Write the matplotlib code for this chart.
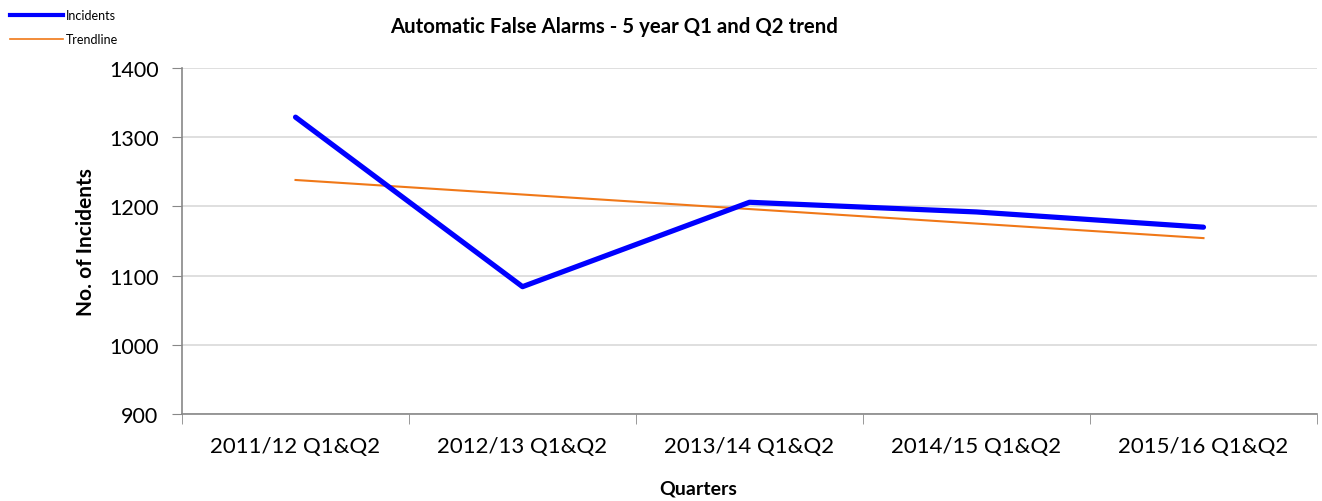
import numpy as np
import matplotlib.pyplot as plt
from matplotlib.lines import Line2D

plt.rcParams['font.family'] = ['Lato', 'DejaVu Sans']

quarters = ["2011/12 Q1&Q2", "2012/13 Q1&Q2", "2013/14 Q1&Q2",
            "2014/15 Q1&Q2", "2015/16 Q1&Q2"]
incidents = [1329, 1084, 1206, 1192, 1170]

x = np.arange(len(quarters))
# linear trendline, as the spreadsheet does it
slope, icpt = np.polyfit(x, incidents, 1)
trend = slope * x + icpt

fig = plt.figure(figsize=(13.22, 5.02), dpi=100)
ax = fig.add_axes([0.1377, 0.1733, 0.8585, 0.6892])

ax.plot(x, incidents, color='#0000ff', linewidth=3.75, solid_capstyle='round', zorder=3)
ax.plot(x, trend, color='#f07818', linewidth=1.5, zorder=2)

ax.set_xlim(-0.5, len(quarters) - 0.5)
ax.set_ylim(900, 1400)
ax.set_yticks(np.arange(900, 1401, 100))
ax.set_xticks(x)
ax.set_xticklabels(quarters)
ax.set_xticks(np.arange(-0.5, len(quarters)), minor=True)
ax.tick_params(axis='x', which='major', length=0, pad=16, labelsize=16)
ax.tick_params(axis='x', which='minor', length=7, color='#888888')
ax.tick_params(axis='y', length=7, color='#888888', labelsize=15.5, pad=10)

ax.yaxis.grid(True, color='#d9d9d9', linewidth=1.2)
ax.set_axisbelow(True)
for s in ['top', 'right']:
    ax.spines[s].set_visible(False)
for s in ['left', 'bottom']:
    ax.spines[s].set_color('#888888')
    ax.spines[s].set_linewidth(1.2)

ax.set_ylabel("No. of Incidents", fontsize=15, fontweight='bold')
ax.yaxis.set_label_coords(-0.076, 0.5)
ax.set_xlabel("Quarters", fontsize=14, fontweight='bold')
ax.xaxis.set_label_coords(0.4546, -0.19)
fig.text(0.4645, 0.946, "Automatic False Alarms - 5 year Q1 and Q2 trend",
         ha='center', va='center', fontsize=14.7, fontweight='bold')

handles = [Line2D([], [], color='#0000ff', linewidth=3),
           Line2D([], [], color='#f07818', linewidth=1.2)]
fig.legend(handles, ["Incidents", "Trendline"], loc='upper left',
           bbox_to_anchor=(0.0, 1.0), frameon=False, fontsize=9,
           handlelength=4.2, handletextpad=0.3, labelspacing=1.0,
           borderpad=0.4, borderaxespad=0.4)

fig.savefig("out.png", dpi=100)
